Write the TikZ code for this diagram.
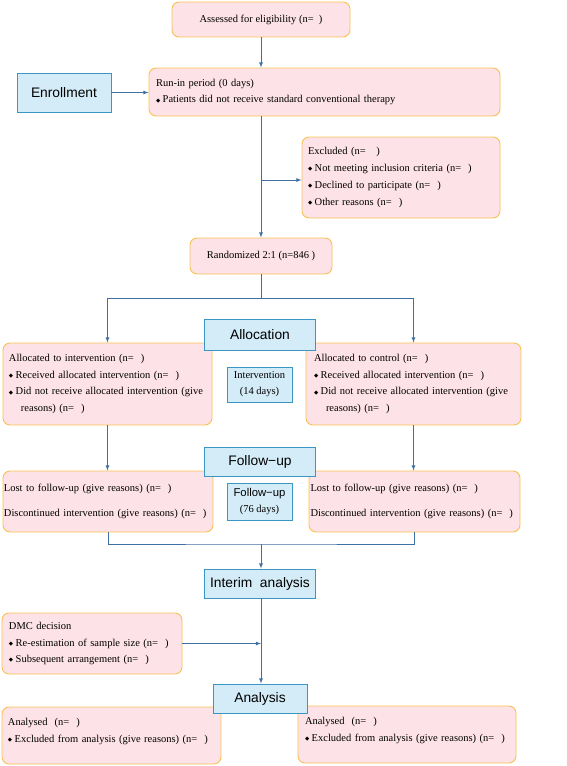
\documentclass[tikz,border=0pt]{standalone}
\usepackage{fontspec}
\setmainfont{Liberation Serif}
\setsansfont{Liberation Sans}
\newfontfamily\symfont{DejaVu Sans}

\definecolor{boxfill}{HTML}{FDE2E7}
\definecolor{boxline}{HTML}{F9C152}
\definecolor{hdrfill}{HTML}{D4ECF7}
\definecolor{hdrline}{HTML}{3A97C4}
\definecolor{linkcol}{HTML}{3F6FA3}

\newcommand{\dmd}{\raisebox{0.8pt}{\symfont\fontsize{5.5}{5}\selectfont ◆}\hspace{2.5pt}}

\tikzset{
  pinkbox/.style={draw=boxline, fill=boxfill, line width=0.9pt, rounded corners=7pt,
    inner xsep=6pt, inner ysep=0pt, font=\fontsize{10.5}{16.7}\selectfont},
  pinkboxl/.style={pinkbox, align=left},
  bluebox/.style={draw=hdrline, fill=hdrfill, line width=0.9pt, inner sep=0pt,
    font=\sffamily\fontsize{13.8}{16}\selectfont},
  period/.style={bluebox, font=\fontsize{10.5}{16}\selectfont, align=center},
  link/.style={draw=linkcol, line width=0.8pt}
}

\begin{document}
\begin{tikzpicture}[>=latex, x=1pt, y=-1pt]
\useasboundingbox (0,0) rectangle (567,766);

\node[pinkbox, minimum width=178pt, minimum height=35pt] (assess) at (261,19.5) {Assessed for eligibility (n=\ \ )};
\node[bluebox, minimum width=94pt, minimum height=39pt] (enroll) at (64,92.5) {Enrollment};
\node[pinkboxl, inner xsep=7pt, text width=337pt, minimum height=48pt] (runin) at (324.5,92)
  {Run-in period (0 days)\\ \dmd Patients did not receive standard conventional therapy};
\node[pinkboxl, text width=186pt, minimum height=81pt] (excl) at (401,177.5)
  {Excluded (n=\ \ \ )\\ \dmd Not meeting inclusion criteria (n=\ \ )\\ \dmd Declined to participate (n=\ \ )\\ \dmd Other reasons (n=\ \ )};
\node[pinkbox, minimum width=142pt, minimum height=36pt] (random) at (261,256) {Randomized 2:1 (n=846 )};

\node[pinkboxl, text width=197pt, minimum height=82pt] (allocL) at (107.5,384)
  {Allocated to intervention (n=\ \ )\\ \dmd Received allocated intervention (n=\ \ )\\ \mbox{\dmd Did not receive allocated intervention (give}\\ \hspace*{12pt}reasons) (n=\ \ )};
\node[pinkboxl, inner xsep=8pt, text width=199pt, minimum height=82pt] (allocR) at (413.5,384)
  {Allocated to control (n=\ \ )\\ \dmd Received allocated intervention (n=\ \ )\\ \mbox{\dmd Did not receive allocated intervention (give}\\ \hspace*{12pt}reasons) (n=\ \ )};
\node[bluebox, minimum width=111pt, minimum height=31pt] (alloc) at (260,335) {Allocation};
\node[period, minimum width=65pt, minimum height=35pt] (inter) at (259.5,384.5) {Intervention\\(14 days)};

\node[pinkboxl, inner xsep=1pt, text width=208pt, minimum height=61pt] (fuL) at (108,501.5)
  {Lost to follow-up (give reasons) (n=\ \ )\\[9pt] \mbox{Discontinued intervention (give reasons) (n=\ \ )}};
\node[pinkboxl, inner xsep=1.5pt, text width=208pt, minimum height=61pt] (fuR) at (414.5,501.5)
  {Lost to follow-up (give reasons) (n=\ \ )\\[9pt] \mbox{Discontinued intervention (give reasons) (n=\ \ )}};
\node[bluebox, minimum width=111pt, minimum height=29pt] (fu) at (260,461.5) {Follow−up};
\node[period, minimum width=65pt, minimum height=37pt] (fuperiod) at (259.5,501.5)
  {{\sffamily\fontsize{11.3}{15}\selectfont Follow−up}\\(76 days)};

\node[bluebox, minimum width=111pt, minimum height=29pt] (interim) at (260,583.5) {Interim\ \ analysis};
\node[pinkboxl, inner xsep=7pt, text width=166pt, minimum height=61pt] (dmc) at (92,643.5)
  {DMC decision\\ \dmd Re-estimation of sample size (n=\ \ )\\ \dmd Subsequent arrangement (n=\ \ )};

\node[pinkboxl, text width=207pt, minimum height=57pt] (anL) at (111.5,735.5)
  {Analysed\ \ (n=\ \ )\\ \dmd Excluded from analysis (give reasons) (n=\ \ )\\[-6pt]\mbox{}};
\node[pinkboxl, inner xsep=7pt, text width=204pt, minimum height=57pt] (anR) at (407,734.5)
  {Analysed\ \ (n=\ \ )\\ \dmd Excluded from analysis (give reasons) (n=\ \ )\\[-6pt]\mbox{}};
\node[bluebox, minimum width=94pt, minimum height=29pt] (analysis) at (260,698.5) {Analysis};

\coordinate (toexcl) at (261,180);
\coordinate (split) at (261,298);
\coordinate (merge) at (261,544);

\draw[link,->] (assess) -- (assess |- runin.north);
\draw[link,->] (enroll) -- (enroll -| runin.west);
\draw[link,->] (assess |- runin.south) -- (random);
\draw[link,->] (toexcl) -- (toexcl -| excl.west);
\draw[link] (random) -- (split);
\draw[link,->] (split) -| (allocL);
\draw[link,->] (split) -| (allocR);
\draw[link,->] (allocL) -- (allocL |- fuL.north);
\draw[link,->] (allocR) -- (allocR |- fuR.north);
\draw[link] (fuL.south) |- (merge) -| (fuR.south);
\draw[link,->] (merge) -- (merge |- interim.north);
\draw[link,->] (merge |- interim.south) -- (merge |- analysis.north);
\draw[link,->] (dmc.east) -- (dmc.east -| merge);
\end{tikzpicture}
\end{document}
